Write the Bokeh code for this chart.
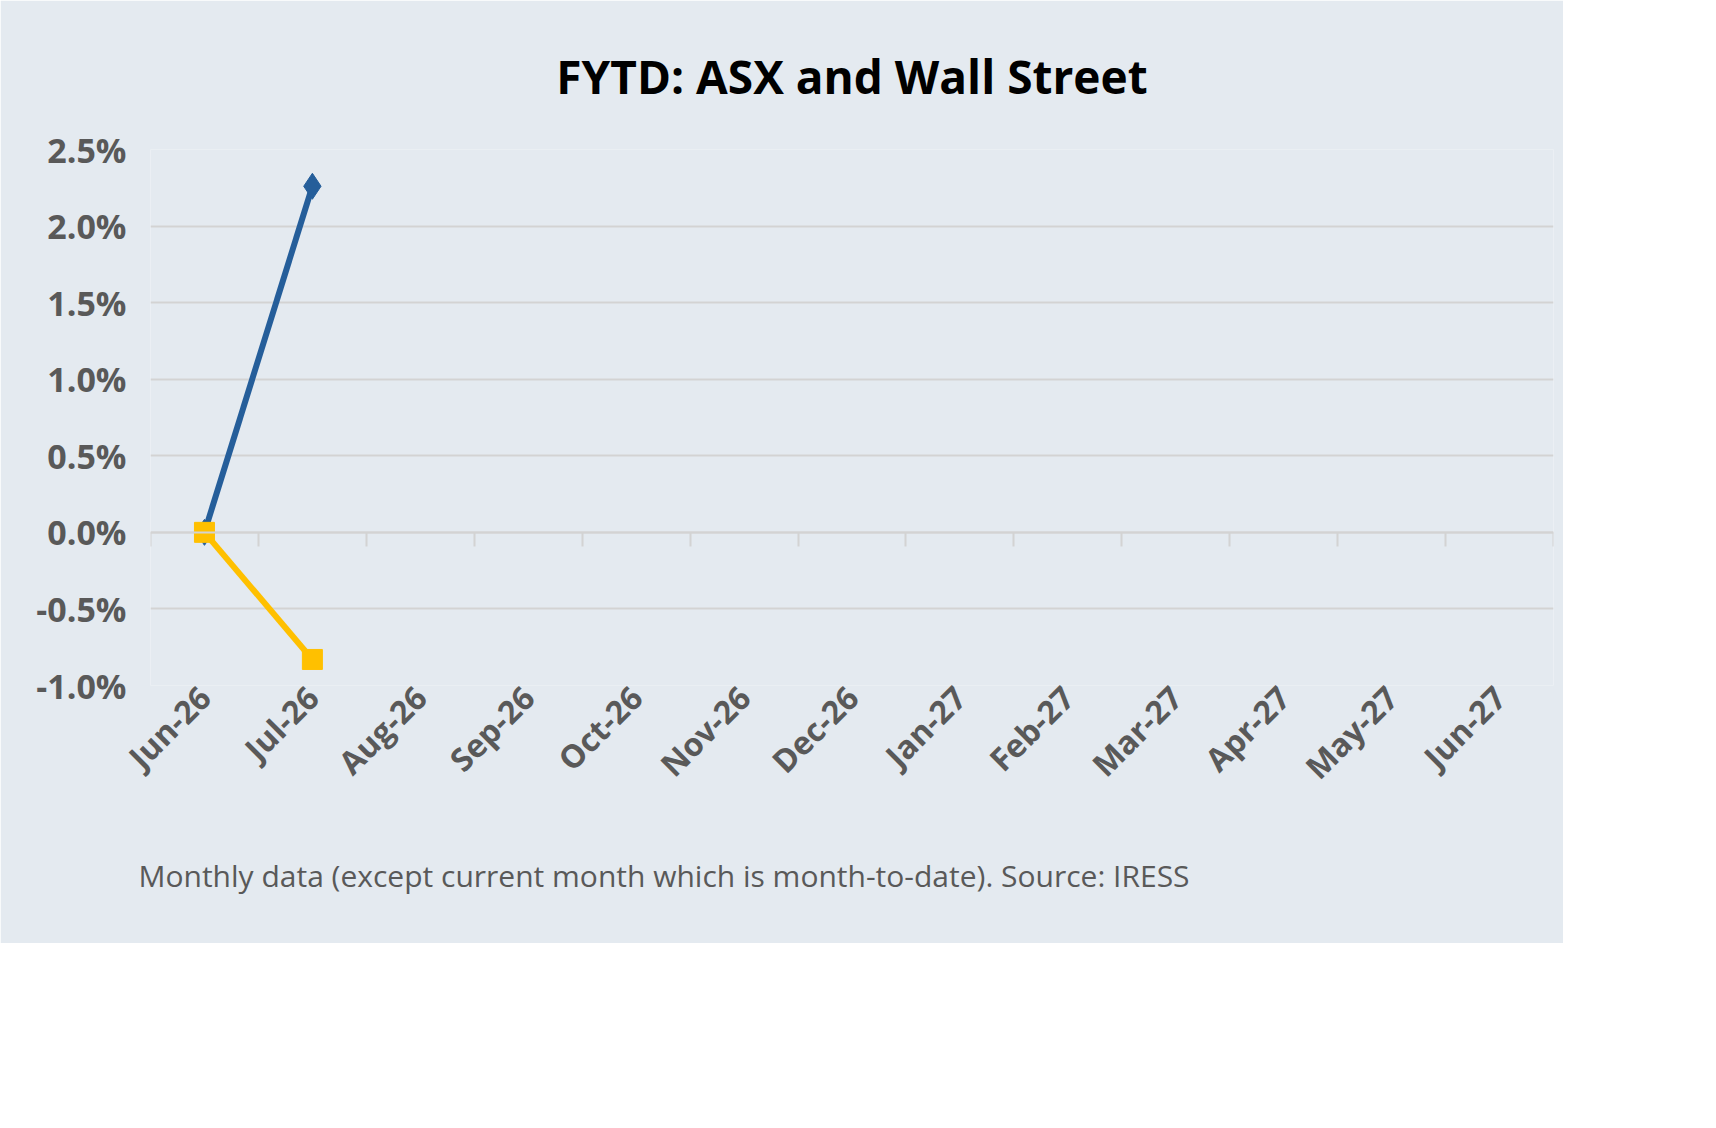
from bokeh.plotting import figure
from bokeh.models import (FixedTicker, LinearAxis, Range1d, Title, Legend, LegendItem,
                          NumeralTickFormatter, ColumnDataSource)
from bokeh.embed import file_html
from bokeh.resources import INLINE

months = ["Jun-26","Jul-26","Aug-26","Sep-26","Oct-26","Nov-26","Dec-26",
          "Jan-27","Feb-27","Mar-27","Apr-27","May-27","Jun-27"]
asx = [0.0, 0.0226]
sp500 = [0.0, -0.0083]
yticks = [-0.01, -0.005, 0.0, 0.005, 0.01, 0.015, 0.02, 0.025]

BG = "#E4EAF0"
GREY = "#595959"
FONT = "Open Sans"
BLUE = "#255E9A"
YEL = "#FFC000"

n = len(months)
p = figure(frame_width=1403, frame_height=536, output_backend="svg", toolbar_location=None,
           x_range=Range1d(-0.5, n - 0.5), y_range=Range1d(-0.01, 0.025),
           background_fill_color=BG, border_fill_color=BG, outline_line_color=None,
           min_border_left=150, min_border_right=10, min_border_top=15, min_border_bottom=25)
p.xaxis.visible = False
p.xgrid.visible = False
p.yaxis.ticker = FixedTicker(ticks=yticks)
p.yaxis.formatter = NumeralTickFormatter(format="0.0%")
p.yaxis.axis_line_color = None
p.yaxis.major_tick_line_color = None
p.yaxis.minor_tick_line_color = None
p.yaxis.major_label_text_font = FONT
p.yaxis.major_label_text_font_size = "34px"
p.yaxis.major_label_text_font_style = "bold"
p.yaxis.major_label_text_color = GREY
p.yaxis.major_label_standoff = 18
p.ygrid.ticker = FixedTicker(ticks=yticks)
p.ygrid.grid_line_color = "#D3D3D3"
p.ygrid.grid_line_width = 2

zax = LinearAxis(fixed_location=0, ticker=FixedTicker(ticks=[i - 0.5 for i in range(n + 1)]),
                 major_label_text_font_size="0px", major_tick_out=14, major_tick_in=0,
                 axis_line_color="#D3D3D3", axis_line_width=2,
                 major_tick_line_color="#D3D3D3", major_tick_line_width=2,
                 minor_tick_line_color=None)
p.add_layout(zax, "below")

lax = LinearAxis(ticker=FixedTicker(ticks=list(range(n))),
                 major_label_overrides={i: m for i, m in enumerate(months)},
                 major_label_orientation=0.785, axis_line_color=None,
                 major_tick_line_color=None, minor_tick_line_color=None,
                 major_label_text_font=FONT, major_label_text_font_size="32px",
                 major_label_text_font_style="bold", major_label_text_color=GREY,
                 major_label_standoff=0)
p.add_layout(lax, "below")

s1 = ColumnDataSource(dict(x=list(range(len(asx))), y=asx))
s2 = ColumnDataSource(dict(x=list(range(len(sp500))), y=sp500))
l1 = p.line("x", "y", source=s1, line_color=BLUE, line_width=6)
m1 = p.scatter("x", "y", source=s1, marker="diamond", size=26, color=BLUE)
l2 = p.line("x", "y", source=s2, line_color=YEL, line_width=6)
m2 = p.scatter("x", "y", source=s2, marker="square", size=20, color=YEL)

legend = Legend(items=[LegendItem(label="Australia: ASX/S&P 300", renderers=[l1, m1]),
                       LegendItem(label="US: S&P500", renderers=[l2, m2])],
                orientation="horizontal", location=(185, -222),
                background_fill_alpha=0, border_line_color=None,
                label_text_font=FONT, label_text_font_size="30px",
                label_text_font_style="bold", label_text_color=GREY,
                glyph_width=85, glyph_height=30, spacing=110, label_standoff=6,
                margin=0, padding=10)
p.add_layout(legend, "center")

p.add_layout(Title(text="Monthly data (except current month which is month-to-date).  Source: IRESS",
                   text_font=FONT, text_font_size="30px", text_font_style="normal",
                   text_color=GREY, align="left", offset=-12, standoff=95), "below")
p.add_layout(Title(text="FYTD: ASX and Wall Street", text_font=FONT, text_font_size="46px",
                   text_font_style="bold", text_color="black", align="center",
                   standoff=85), "above")

open("out.html", "w").write(file_html(p, INLINE))
